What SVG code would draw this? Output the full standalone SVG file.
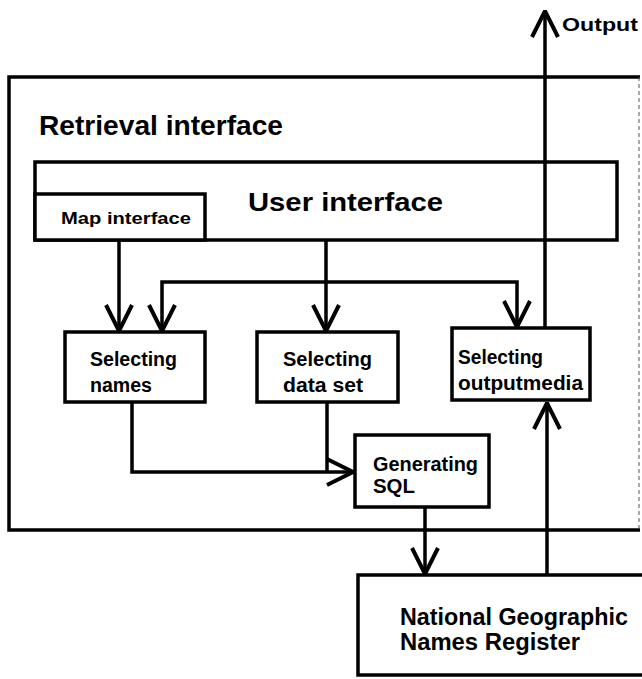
<svg xmlns="http://www.w3.org/2000/svg" width="642" height="679" viewBox="0 0 642 679">
<style>
.box{fill:#fff;stroke:#000;stroke-width:3.5}
.ln{fill:none;stroke:#000;stroke-width:3.5}
.t{font-family:"Liberation Sans",Arial,sans-serif;font-weight:bold;fill:#000}
</style>
<defs>
<marker id="v" viewBox="0 0 30 30" refX="29" refY="15" markerWidth="30" markerHeight="30" markerUnits="userSpaceOnUse" orient="auto-start-reverse">
<path d="M3,2 L29,15 L3,28" fill="none" stroke="#000" stroke-width="4"/>
</marker>
</defs>
<rect width="642" height="679" fill="#fff"/>
<g id="retrieval">
<path d="M640,77 H9 V530 H640" class="ln"/>
<path d="M639,77 V530" fill="none" stroke="#555" stroke-width="1" stroke-dasharray="4 3"/>
<text class="t" x="39" y="135" font-size="28" textLength="244" lengthAdjust="spacingAndGlyphs">Retrieval interface</text>
</g>
<g id="user">
<rect class="box" x="35" y="162" width="582" height="78"/>
<text class="t" x="248" y="211" font-size="26" textLength="195" lengthAdjust="spacingAndGlyphs">User interface</text>
</g>
<g id="map">
<rect class="box" x="35" y="194" width="170" height="46"/>
<text class="t" x="61" y="224" font-size="17" textLength="130" lengthAdjust="spacingAndGlyphs">Map interface</text>
</g>
<g id="names">
<rect class="box" x="65" y="332" width="140" height="70"/>
<text class="t" x="90" y="366" font-size="20" textLength="87" lengthAdjust="spacingAndGlyphs">Selecting</text>
<text class="t" x="90" y="392" font-size="20" textLength="62" lengthAdjust="spacingAndGlyphs">names</text>
</g>
<g id="dataset">
<rect class="box" x="257" y="332" width="141" height="70"/>
<text class="t" x="283" y="366" font-size="20" textLength="89" lengthAdjust="spacingAndGlyphs">Selecting</text>
<text class="t" x="283" y="392" font-size="20" textLength="80" lengthAdjust="spacingAndGlyphs">data set</text>
</g>
<g id="media">
<rect class="box" x="452" y="328" width="138" height="72"/>
<text class="t" x="458" y="364" font-size="20" textLength="85" lengthAdjust="spacingAndGlyphs">Selecting</text>
<text class="t" x="458" y="390" font-size="20" textLength="125" lengthAdjust="spacingAndGlyphs">outputmedia</text>
</g>
<g id="sql">
<rect class="box" x="355" y="435" width="134" height="72"/>
<text class="t" x="373" y="471" font-size="20" textLength="105" lengthAdjust="spacingAndGlyphs">Generating</text>
<text class="t" x="373" y="493" font-size="20" textLength="42" lengthAdjust="spacingAndGlyphs">SQL</text>
</g>
<g id="ngnr">
<rect class="box" x="358" y="575" width="300" height="100"/>
<text class="t" x="400" y="625" font-size="23" textLength="228" lengthAdjust="spacingAndGlyphs">National Geographic</text>
<text class="t" x="400" y="650" font-size="23" textLength="180" lengthAdjust="spacingAndGlyphs">Names Register</text>
</g>
<g id="output">
<text class="t" x="562" y="31" font-size="18" textLength="76" lengthAdjust="spacingAndGlyphs">Output</text>
</g>
<g id="connectors">
<path class="ln" d="M545,328 V11" marker-end="url(#v)"/>
<path class="ln" d="M119,240 V331" marker-end="url(#v)"/>
<path class="ln" d="M326,240 V331" marker-end="url(#v)"/>
<path class="ln" d="M162,331 V282 H517 V327" marker-start="url(#v)" marker-end="url(#v)"/>
<path class="ln" d="M132,402 V472 H353" marker-end="url(#v)"/>
<path class="ln" d="M327,402 V472"/>
<path class="ln" d="M425,507 V574" marker-end="url(#v)"/>
<path class="ln" d="M547,575 V403" marker-end="url(#v)"/>
</g>
</svg>
